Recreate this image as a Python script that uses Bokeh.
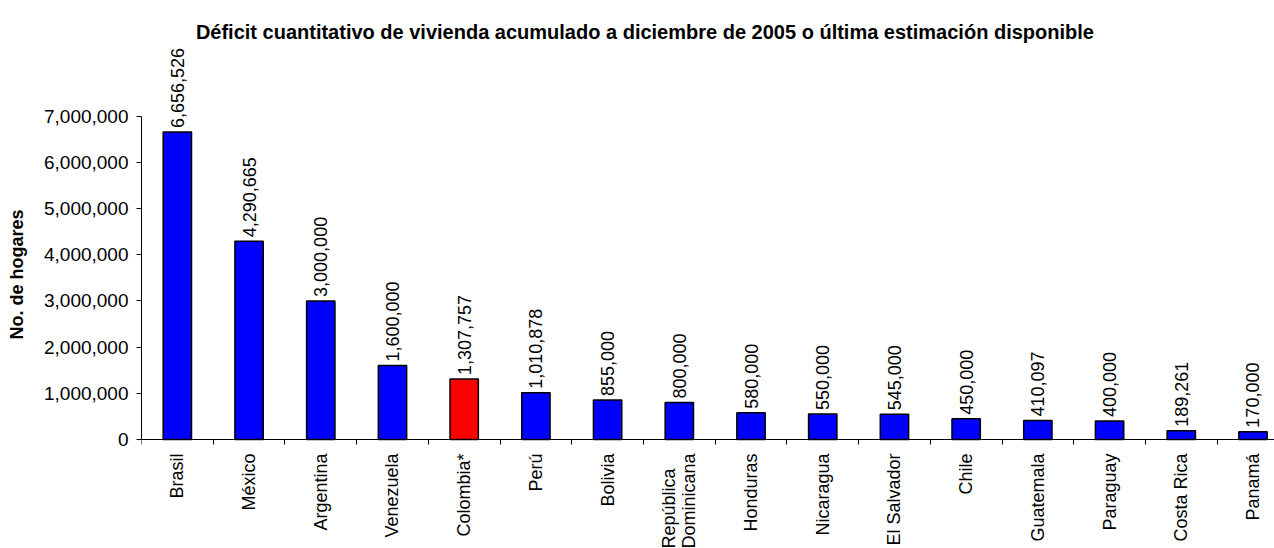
import math
from bokeh.plotting import figure
from bokeh.models import (Range1d, FixedTicker, NumeralTickFormatter, ColumnDataSource,
                          LabelSet, Label)
from bokeh.core.properties import value
from bokeh.embed import file_html
from bokeh.resources import INLINE

countries = ["Brasil", "México", "Argentina", "Venezuela", "Colombia*", "Perú", "Bolivia",
             "República\nDominicana", "Honduras", "Nicaragua", "El Salvador", "Chile",
             "Guatemala", "Paraguay", "Costa Rica", "Panamá"]
deficit = [6656526, 4290665, 3000000, 1600000, 1307757, 1010878, 855000, 800000,
           580000, 550000, 545000, 450000, 410097, 400000, 189261, 170000]
highlight = "Colombia*"
y_ticks = [0, 1000000, 2000000, 3000000, 4000000, 5000000, 6000000, 7000000]
title_text = "Déficit cuantitativo de vivienda acumulado a diciembre de 2005 o última estimación disponible"
y_title = "No. de hogares"

FONT = "Liberation Sans"
n = len(countries)
xs = [i + 0.5 for i in range(n)]
colors = ["#FF0000" if c == highlight else "#0000FF" for c in countries]
labels = [f"{v:,}" for v in deficit]

src = ColumnDataSource(dict(x=xs, top=deficit, color=colors, lab=labels,
                            name=countries, ybase=[0] * n))

p = figure(width=1274, height=548, output_backend="svg", toolbar_location=None,
           x_range=Range1d(0, 15.80), y_range=Range1d(-2360000, 9504000),
           min_border_left=141, min_border_right=0, min_border_top=0,
           min_border_bottom=0)
p.outline_line_color = None
p.xgrid.grid_line_color = None
p.ygrid.grid_line_color = None
p.background_fill_color = "white"
p.border_fill_color = "white"

p.vbar(x="x", top="top", width=0.395, fill_color="color", line_color="black",
       line_width=1.5, source=src)

# value labels
p.add_layout(LabelSet(x="x", y="top", text="lab", source=src, angle=math.pi / 2,
                      text_align="left", text_baseline="middle", y_offset=4,
                      text_font=value(FONT), text_font_size="18px",
                      text_color="black"))

# category labels
p.add_layout(LabelSet(x="x", y="ybase", text="name", source=src, angle=math.pi / 2,
                      text_align="right", text_baseline="middle", y_offset=-14,
                      text_font=value(FONT), text_font_size="18px", text_color="black",
                      text_line_height=1.0))

# title
p.add_layout(Label(x=7.02, y=7000000, y_offset=84, text=title_text, text_align="center",
                   text_baseline="alphabetic", text_font=FONT, text_font_size="20px",
                   text_font_style="bold", text_color="black"))

xa = p.xaxis[0]
xa.fixed_location = 0
xa.ticker = FixedTicker(ticks=[], minor_ticks=list(range(0, n)))
xa.major_label_text_font_size = "0px"
xa.axis_line_color = "black"
xa.minor_tick_line_color = "black"
xa.minor_tick_out = 5
xa.minor_tick_in = 0
xa.major_tick_line_color = None

ya = p.yaxis[0]
ya.bounds = (0, 7000000)
ya.ticker = FixedTicker(ticks=y_ticks)
ya.formatter = NumeralTickFormatter(format="0,0")
ya.major_label_text_font = FONT
ya.major_label_text_font_size = "19px"
ya.major_label_text_color = "black"
ya.major_tick_out = 5
ya.major_tick_in = 0
ya.minor_tick_line_color = None
ya.major_label_standoff = 8
ya.axis_label = y_title
ya.axis_label_text_font = FONT
ya.axis_label_text_font_size = "18px"
ya.axis_label_text_font_style = "bold"
ya.axis_label_text_color = "black"
ya.axis_label_standoff = 14

open("out.html", "w").write(file_html(p, INLINE))
